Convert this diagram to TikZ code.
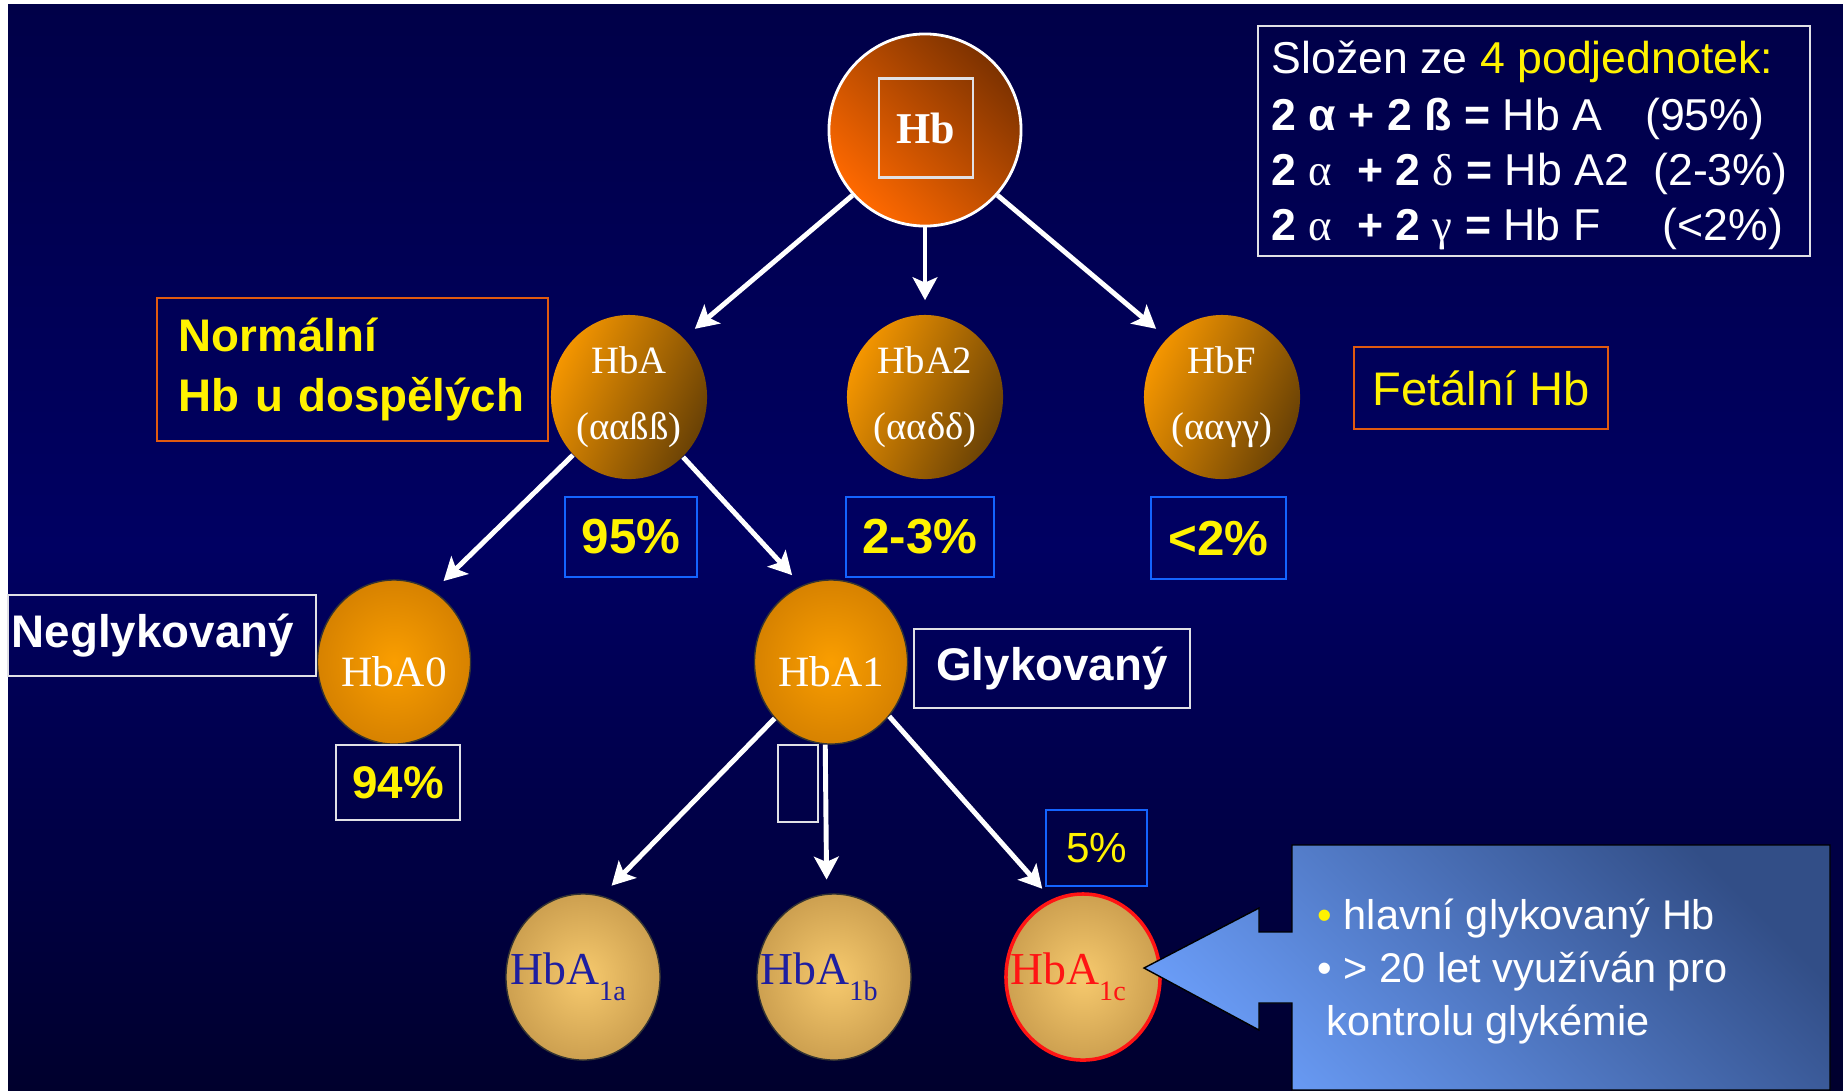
\documentclass[tikz,border=0pt]{standalone}
\usepackage{fontspec}
\setmainfont{Liberation Sans}
\newfontfamily\tms{Liberation Serif}
\usepackage{tikz}
\usetikzlibrary{arrows.meta, shapes.geometric}

\definecolor{bgtop}{RGB}{0,0,72}
\definecolor{bgmid}{RGB}{0,0,98}
\definecolor{bgbot}{RGB}{0,0,45}
\definecolor{hborange}{RGB}{255,105,0}
\definecolor{hbdark}{RGB}{125,50,0}
\definecolor{subor}{RGB}{245,150,0}
\definecolor{subbr}{RGB}{105,65,5}
\definecolor{globin}{RGB}{250,158,0}
\definecolor{globout}{RGB}{215,130,0}
\definecolor{gldin}{RGB}{247,202,110}
\definecolor{gldout}{RGB}{205,160,80}
\definecolor{hbnavy}{RGB}{30,30,160}
\definecolor{hbred}{RGB}{255,20,20}
\definecolor{pctblue}{RGB}{20,100,255}
\definecolor{boxorange}{RGB}{225,90,15}
\definecolor{boxwhite}{RGB}{225,225,230}
\definecolor{calldark}{RGB}{50,78,135}
\definecolor{calllight}{RGB}{105,155,245}

\newcommand{\lowsub}[1]{\raisebox{-4.5pt}{\fontsize{8}{8}\selectfont #1}}
% text wider than the ellipse, shifted a little to the left
\newcommand{\goldtext}[1]{\makebox[0pt]{#1\kern8.5pt}}

\tikzset{
  arr/.style={draw=white, line width=1.4pt, -{Stealth[length=6.5pt,width=7pt,inset=1.5pt]}, shorten >=4pt},
  hbtop/.style={circle, minimum size=1.92cm, draw=white, line width=0.8pt, top color=hbdark, bottom color=hborange, shading angle=-45},
  hbsub/.style={ellipse, minimum width=1.56cm, minimum height=1.64cm, inner sep=0pt, top color=subor, bottom color=subbr, shading angle=65, text=white, align=center, font=\tms\fontsize{11}{18.7}\selectfont},
  hbglob/.style={ellipse, minimum width=1.53cm, minimum height=1.64cm, inner sep=0pt, shading=radial, inner color=globin, outer color=globout, draw=black!80, line width=0.4pt, text=white, font=\tms\fontsize{12.3}{14}\selectfont, text height=14pt, text depth=0pt},
  hbgold/.style={ellipse, minimum width=1.54cm, minimum height=1.66cm, inner sep=0pt, shading=radial, inner color=gldin, outer color=gldout, draw=black!80, line width=0.4pt, text=hbnavy, font=\tms\fontsize{13}{15}\selectfont},
  pct/.style={draw=pctblue, line width=0.7pt, inner sep=0pt, text=yellow, font=\bfseries\fontsize{14}{16}\selectfont},
  wbox/.style={draw=boxwhite, line width=0.7pt, inner sep=0pt},
  obox/.style={draw=boxorange, line width=0.7pt, inner sep=0pt, text=yellow},
  infotxt/.style={inner sep=0pt, text=white, font=\fontsize{12.7}{15}\selectfont},
  calltxt/.style={inner sep=0pt, text=white, font=\fontsize{11.8}{14}\selectfont}
}

\begin{document}
\begin{tikzpicture}[x=0.01cm, y=-0.01cm]
% slide background
\fill[white] (0,0) rectangle (1843,1090);
\shade[top color=bgtop, bottom color=bgbot, middle color=bgmid] (8,4) rectangle (1843,1090);
\useasboundingbox (0,0) rectangle (1843,1090);

\node[hbtop] (Hb) at (925,130) {};
\node[wbox, minimum width=0.94cm, minimum height=0.99cm, text=white, font=\tms\bfseries\fontsize{12.5}{14}\selectfont] (hbl) at (926,128) {Hb};

\node[hbsub] (HbA) at (629,397) {HbA\\(ααßß)};
\node[hbsub] (HbAii) at (925,397) {HbA2\\(ααδδ)};
\node[hbsub] (HbF) at (1222,397) {HbF\\(ααγγ)};

\node[hbglob] (HbAo) at (394,662) {HbA0};
\node[hbglob] (HbAi) at (831,662) {HbA1};

\node[hbgold] (HbAa) at (583,977) {\goldtext{HbA\lowsub{1a}}};
\node[hbgold] (HbAb) at (834,977) {\goldtext{HbA\lowsub{1b}}};
\node[hbgold, draw=hbred, line width=1pt, text=hbred] (HbAc) at (1083,977) {\goldtext{HbA\lowsub{1c}}};

% labels and percentages
\node[obox, minimum width=3.91cm, minimum height=1.43cm, text width=3.47cm, align=left, font=\bfseries\fontsize{13}{17}\selectfont] (norm) at (352.5,369.5) {Normální\\Hb u dospělých};
\node[obox, minimum width=2.54cm, minimum height=0.82cm, font=\fontsize{13.4}{16}\selectfont] (fet) at (1481,388) {Fetální Hb};
\node[pct, minimum width=1.32cm, minimum height=0.80cm] (p95) at (631,537) {95\%};
\node[pct, minimum width=1.48cm, minimum height=0.80cm] (p23) at (920,537) {2-3\%};
\node[pct, minimum width=1.35cm, minimum height=0.82cm] (p2) at (1218.5,538) {<2\%};
\node[wbox, minimum width=3.08cm, minimum height=0.81cm, text width=3.0cm, align=left, text=white, font=\bfseries\fontsize{13}{16}\selectfont] (neg) at (162,635.5) {Neglykovaný};
\node[wbox, minimum width=1.24cm, minimum height=0.75cm, text=yellow, font=\bfseries\fontsize{13}{16}\selectfont] (p94) at (398,782.5) {94\%};
\node[wbox, minimum width=2.76cm, minimum height=0.79cm, text=white, font=\bfseries\fontsize{13}{16}\selectfont] (gly) at (1052,668.5) {Glykovaný};
\node[wbox, minimum width=0.40cm, minimum height=0.77cm] (gap) at (798,783.5) {};
\node[pct, minimum width=1.01cm, minimum height=0.76cm, font=\fontsize{12}{14}\selectfont] (p5) at (1096.5,848) {5\%};

% composition box
\node[wbox, minimum width=5.52cm, minimum height=2.30cm] (info) at (1534,141) {};
\node[infotxt, anchor=base west] (l1) at (1271,73) {Složen ze {\color{yellow}4 podjednotek:}};
\node[infotxt, anchor=base west] (l2) at (1271,130) {\textbf{2 α + 2 ß =} Hb A};
\node[infotxt, anchor=base east] (r2) at (1765,130) {(95\%)};
\node[infotxt, anchor=base west] (l3) at (1271,185) {\textbf{2 {\tms\mdseries α}\ \ + 2 {\tms\mdseries δ} =} Hb A2};
\node[infotxt, anchor=base east] (r3) at (1788,185) {(2-3\%)};
\node[infotxt, anchor=base west] (l4) at (1271,240) {\textbf{2 {\tms\mdseries α}\ \ + 2 {\tms\mdseries γ} =} Hb F};
\node[infotxt, anchor=base east] (r4) at (1784,240) {(<2\%)};

\draw[arr] (Hb.-138) -- (HbA.47);
\draw[arr] (Hb.south) -- (HbAii.north);
\draw[arr] (Hb.-42) -- (HbF.133);
\draw[arr] (HbA.-134) -- (HbAo.61);
\draw[arr] (HbA.-48) -- (HbAi.111);
\draw[arr] (HbAi.-135) -- (HbAa.77);
\draw[arr] (HbAi.-94) -- (HbAb.95);
\draw[arr] (HbAi.-43) -- (HbAc.112);

% callout pointing at HbA1c
\shadedraw[draw=black, line width=0.4pt, top color=calldark, bottom color=calllight, shading angle=-45]
  (1292,845) -- (1830,845) -- (1830,1090) -- (1292,1090) -- (1292,1003) -- (1259,1003)
  -- (1259,1030) -- (1144,968) -- (1259,908) -- (1259,932) -- (1292,932) -- cycle;
\node[calltxt, anchor=base west] (c1) at (1317,929) {{\color{yellow}•} hlavní glykovaný Hb};
\node[calltxt, anchor=base west] (c2) at (1317,982) {• > 20 let využíván pro};
\node[calltxt, anchor=base west] (c3) at (1326,1035) {kontrolu glykémie};
\end{tikzpicture}
\end{document}
